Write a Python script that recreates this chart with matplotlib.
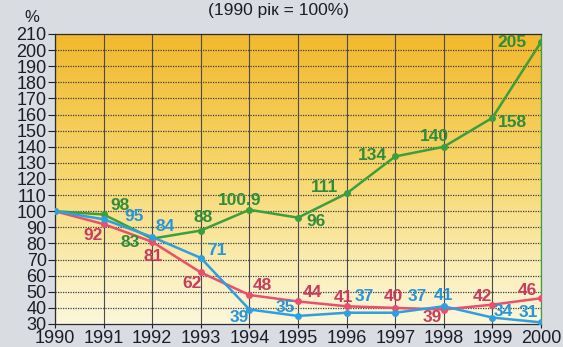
import matplotlib.pyplot as plt
import numpy as np
from matplotlib.colors import LinearSegmentedColormap

years = [1990, 1991, 1992, 1993, 1994, 1995, 1996, 1997, 1998, 1999, 2000]
green_vals = [100, 98, 83, 88, 100.9, 96, 111, 134, 140, 158, 205]
red_vals = [100, 92, 81, 62, 48, 44, 41, 40, 39, 42, 46]
blue_vals = [100, 95, 84, 71, 39, 35, 37, 37, 41, 34, 31]
green_text = ['', '98', '83', '88', '100.9', '96', '111', '134', '140', '158', '205']
red_text = ['', '92', '81', '62', '48', '44', '41', '40', '39', '42', '46']
blue_text = ['', '95', '84', '71', '39', '35', '37', '37', '41', '34', '31']

# label offsets in pixels (dx, dy)
green_off = [None, (16, 9), (-22, -4), (2, 13), (-10, 9), (18, -4), (-22, 6), (-23, 1), (-9, 10), (20, -5), (-29, 0)]
red_off = [None, (-11, -11), (1, -15), (-9, -11), (13, 10), (14, 9), (-3, 9), (-2, 11), (-12, -8), (-10, 8), (-14, 8)]
blue_off = [None, (30, 3), (13, 10), (16, 7), (-10, -8), (-13, 8), (18, 16), (22, 16), (0, 11), (11, 6), (-13, 10)]

plt.rcParams['font.family'] = ['Liberation Sans', 'DejaVu Sans']

fig = plt.figure(figsize=(5.63, 3.47), dpi=100, facecolor='#d9dde1')
ax = fig.add_axes([55 / 563, 1 - 324 / 347, 486 / 563, 290 / 347])

# yellow background fading towards the bottom
cmap = LinearSegmentedColormap.from_list(
    'bg', [(0, '#fcf7dc'), (0.15, '#fbf0c0'), (0.5, '#f7d870'), (1, '#f2b92c')])
grad = np.linspace(0, 1, 256).reshape(-1, 1)
ax.imshow(grad, cmap=cmap, origin='lower', aspect='auto',
          extent=[1990, 2000, 30, 210], zorder=0)

for x in years:
    ax.axvline(x, color='#4a4a55', lw=0.8, zorder=1)
for y in range(40, 210, 10):
    ax.axhline(y, color='#3c3c48', lw=0.9, ls=(0, (1, 1)), zorder=1)

series = [
    (green_vals, green_text, green_off, '#3c9e3c', '#2e8c3a'),
    (red_vals, red_text, red_off, '#e8506e', '#c83c60'),
    (blue_vals, blue_text, blue_off, '#2f9fe0', '#2796d8'),
]
for vals, texts, offs, lc, tc in series:
    ax.plot(years, vals, color=lc, lw=1.8, marker='o', ms=4, zorder=3)
    for x, v, t, o in zip(years, vals, texts, offs):
        if o is None:
            continue
        ax.annotate(t, (x, v), xytext=o, textcoords='offset pixels',
                    ha='center', va='center', fontsize=12.5, fontweight='bold',
                    color=tc, zorder=4)

ax.set_xlim(1990, 2000)
ax.set_ylim(30, 210)
ax.set_xticks(years)
ax.set_yticks(range(30, 211, 10))
ax.tick_params(labelsize=13, colors='#1c1c2a', width=0.8)
ax.tick_params(axis='x', length=3, pad=1)
ax.tick_params(axis='y', length=5, pad=1)
for s in ax.spines.values():
    s.set_color('#2a2a35')
    s.set_linewidth(0.9)
ax.spines['right'].set_color('#3c9e3c')

fig.text(32 / 563, 1 - 17 / 347, '%', fontsize=12, color='#1c1c2a', ha='center', va='center')
fig.text(278 / 563, 1 - 10 / 347, '(1990 рік = 100%)', fontsize=12.5, color='#1c1c2a', ha='center', va='center')

fig.savefig('out.png', dpi=100, facecolor=fig.get_facecolor())
